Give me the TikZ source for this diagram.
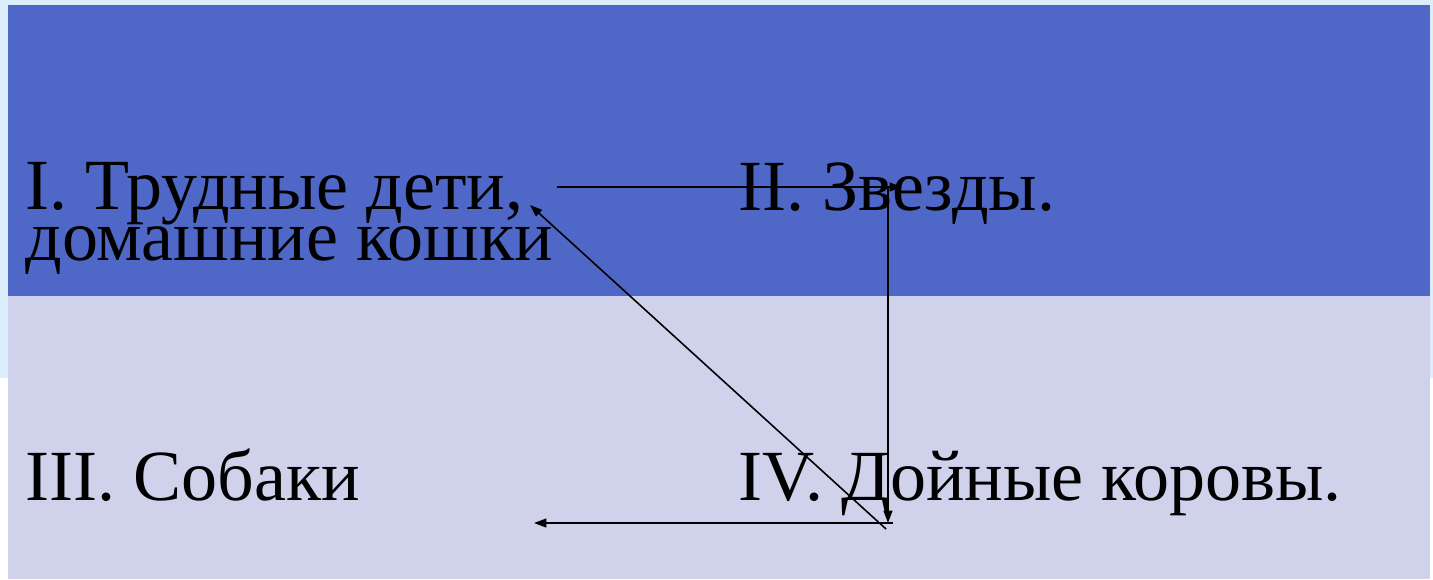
\documentclass[tikz,border=0pt]{standalone}
\usepackage{fontspec}
\setmainfont{Liberation Serif}
\usetikzlibrary{arrows.meta}
\definecolor{paleblue}{HTML}{DCEDFC}
\definecolor{bandblue}{HTML}{4F68C8}
\definecolor{bandlilac}{HTML}{D0D2EC}
\tikzset{
    quarter/.style={anchor=base west,inner sep=0pt,font=\fontsize{41}{28.5}\selectfont},
    link/.style={line width=0.9pt,-{Triangle[length=7pt,width=5pt]}}
}

\begin{document}
\begin{tikzpicture}[x=0.02cm,y=-0.02cm]
    \useasboundingbox (0,0) rectangle (1433,579);
    \fill[paleblue] (0,0) rectangle (1433,378);
    \fill[bandblue] (8,5) rectangle (1430,296);
    \fill[bandlilac] (8,296) rectangle (1430,579);

    % base of the last line of q1
    \node[quarter,align=left] (q1) at (25,260) {I. Трудные дети,\\домашние кошки};
    \node[quarter] (q2) at (738,210) {II. Звезды.};
    \node[quarter] (q3) at (25,500) {III. Собаки};
    \node[quarter] (q4) at (738,500) {IV. Дойные коровы.};

    \coordinate (a) at (557,187);
    \coordinate (b) at (902,187);
    \coordinate (c) at (888,187);
    \coordinate (d) at (888,523);
    \coordinate (e) at (893,523);
    \coordinate (f) at (534,523);
    \coordinate (g) at (886,529);
    \coordinate (h) at (530,205);
    \draw[link] (a) -- (b);
    \draw[link] (c) -- (d);
    \draw[link] (e) -- (f);
    \draw[link] (g) -- (h);
\end{tikzpicture}
\end{document}
